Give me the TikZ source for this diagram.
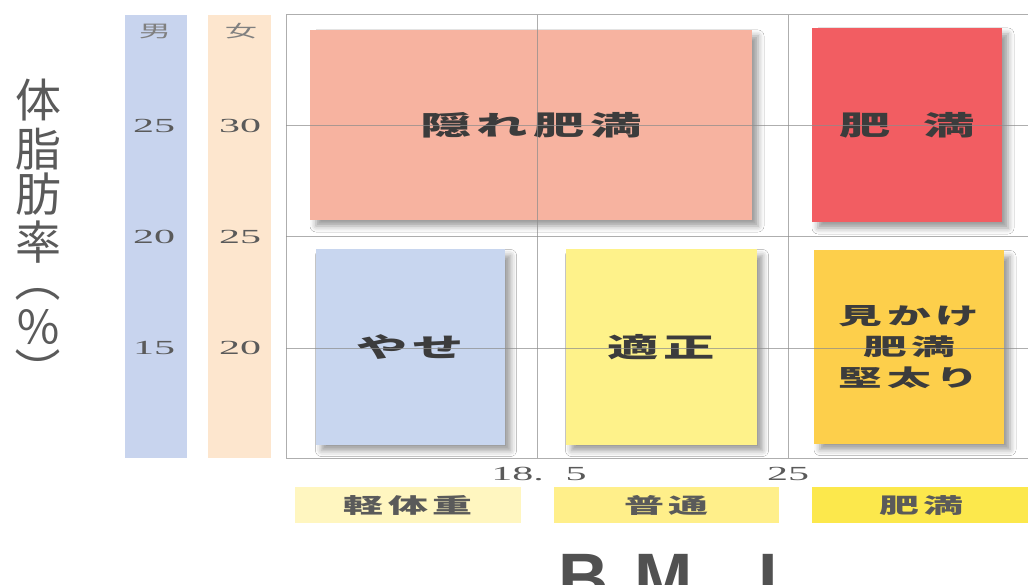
\documentclass[tikz,border=0pt]{standalone}
\usepackage{fontspec}
\usepackage{tikz}
\usetikzlibrary{positioning,shadows.blur}

\newfontfamily\jpfont{Noto Sans CJK JP}
\newfontfamily\widejp[FakeStretch=1.9,LetterSpace=20]{Noto Sans CJK JP}
\newfontfamily\numfont[FakeStretch=2.1]{Liberation Serif}
\newfontfamily\bmifont{Liberation Sans}

\definecolor{menblue}{HTML}{C8D4EE}
\definecolor{womenpeach}{HTML}{FDE6CE}
\definecolor{hiddenfat}{HTML}{F7B3A0}
\definecolor{obesered}{HTML}{F25D62}
\definecolor{thinblue}{HTML}{C8D6EF}
\definecolor{normalyel}{HTML}{FEF28A}
\definecolor{solidorange}{HTML}{FDCF4B}
\definecolor{lightbar}{HTML}{FFF6C0}
\definecolor{midbar}{HTML}{FFEF8A}
\definecolor{fatbar}{HTML}{FCE84C}
\definecolor{inktext}{HTML}{3C3C3C}
\definecolor{softtext}{HTML}{5A5A5A}
\definecolor{gridgray}{HTML}{8C8C8C}

\tikzset{
  zone/.style={inner sep=0pt, text=inktext,
    blur shadow={shadow xshift=6pt, shadow yshift=-6pt, shadow blur radius=6pt, shadow opacity=40},
    font=\widejp\bfseries\fontsize{27}{31}\selectfont},
  catbar/.style={inner sep=0pt, minimum height=36, text=softtext,
    font=\widejp\bfseries\fontsize{21}{21}\selectfont},
  scalenum/.style={inner sep=0pt, text=softtext, font=\numfont\fontsize{20}{20}\selectfont},
  sexlab/.style={inner sep=0pt, text=gray, font=\widejp\fontsize{17}{17}\selectfont},
  ylabel/.style={inner sep=0pt, text=softtext, font=\jpfont\fontsize{46}{46}\selectfont},
  gridline/.style={gridgray, line width=1pt, opacity=0.7}
}

\begin{document}
\begin{tikzpicture}[x=1pt,y=-1pt]
  \fill[white] (0,0) rectangle (1028,585);
  \useasboundingbox (0,0) rectangle (1028,585);
  % Achsentitel links, senkrecht
  \foreach \ch/\yy [count=\i] in {体/100,脂/149,肪/194,率/242}
    \node[ylabel] (ylab\i) at (38,\yy) {\ch};
  \node[ylabel, rotate=-90] (yopen) at (38,280) {（};
  \node[ylabel] (ypct) at (38,327) {％};
  \node[ylabel, rotate=-90] (yclose) at (38,371) {）};
  % Skalen fuer Maenner und Frauen
  \node[fill=menblue, minimum width=62, minimum height=443, anchor=north west, inner sep=0pt] (menbar) at (125,15) {};
  \node[fill=womenpeach, minimum width=63, minimum height=443, anchor=north west, inner sep=0pt] (womenbar) at (208,15) {};
  \node[sexlab] (menlab) at (155,31) {男};
  \node[sexlab] (womenlab) at (241,31) {女};
  \foreach \yy/\mv/\wv [count=\i] in {126/25/30,237/20/25,348/15/20} {
    \node[scalenum] (mnum\i) at (154,\yy) {\mv};
    \node[scalenum] (wnum\i) at (240,\yy) {\wv};
  }
  % Felder
  \node[zone, fill=hiddenfat, minimum width=442, minimum height=190] (hidden) at (531,125) {隠れ肥満};
  \node[zone, fill=obesered, minimum width=190, minimum height=194] (obese) at (907,125) {肥\hspace{1.2em}満};
  \node[zone, fill=thinblue, minimum width=189, minimum height=195] (thin) at (410,347) {やせ};
  \node[zone, fill=normalyel, minimum width=191, minimum height=195] (proper) at (661,347) {適正};
  \node[zone, fill=solidorange, minimum width=190, minimum height=193, align=center,
    font=\widejp\bfseries\fontsize{23}{31}\selectfont] (solid) at (909,347) {見かけ\\肥満\\堅太り};
  % Raster
  \draw[gridline] (286,15) -- (1028,15);
  \draw[gridline] (286,458) -- (1028,458);
  \draw[gridline] (286,15) -- (286,458);
  \foreach \yy in {126,237,348}
    \draw[gridline] (286,\yy) -- (1028,\yy);
  \foreach \xx in {537,788}
    \draw[gridline] (\xx,15) -- (\xx,458);
  % BMI-Achse
  \node[scalenum] (bmilow) at (539,474) {18.\kern22pt5};
  \node[scalenum] (bmihigh) at (788,474) {25};
  \node[catbar, fill=lightbar, minimum width=226] (light) at (408,505) {軽体重};
  \node[catbar, fill=midbar, minimum width=225] (usual) at (666,505) {普通};
  \node[catbar, fill=fatbar, minimum width=216, anchor=west] (fat) at (812,505) {};
  \node[catbar] (fattext) at (921,506) {肥満};
  \node[anchor=base west, inner sep=0pt, text=softtext!90!black,
    font=\bmifont\bfseries\fontsize{70}{70}\selectfont] (bmi) at (558,602) {B\hspace{26pt}M\hspace{65pt}I};
\end{tikzpicture}
\end{document}
